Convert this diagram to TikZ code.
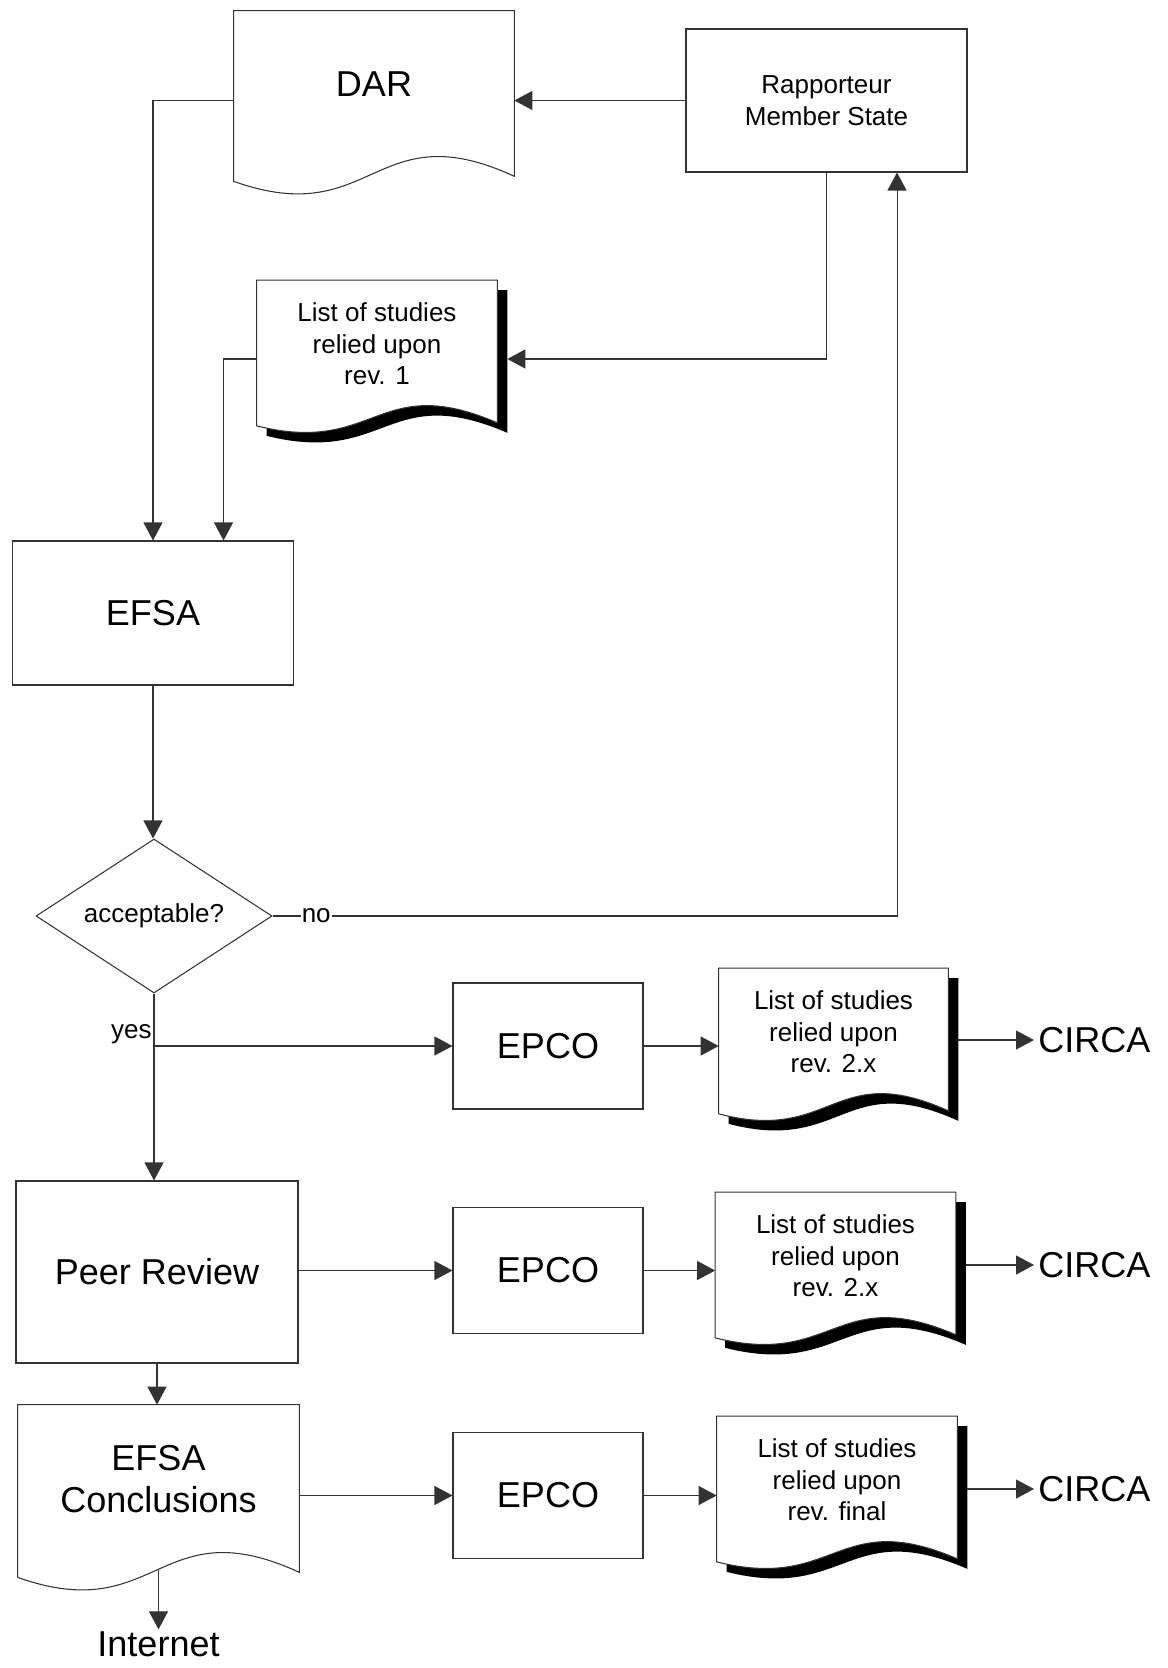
\documentclass[tikz,border=0pt]{standalone}
\usepackage{fontspec}
\setmainfont{Liberation Sans}
\usetikzlibrary{arrows.meta, positioning, calc, shapes.geometric, backgrounds, shadows}

\begin{document}
\begin{tikzpicture}[
      x=0.2mm, y=-0.2mm, >={Triangle[length=3.6mm, width=3.8mm]},
      bigtxt/.style={font=\fontsize{20.5}{24}\selectfont},
      smalltxt/.style={font=\fontsize{14.8}{18}\selectfont},
      box/.style={rectangle, draw=black!80, line width=0.6pt, align=center, inner sep=0pt},
      proc/.style={box, bigtxt, minimum width=38mm, minimum height=25.2mm},
      doc/.style={rectangle, align=center, inner sep=0pt},
      docline/.style={draw=black!80, line width=0.6pt, fill=white},
      listdoc/.style={doc, smalltxt, minimum width=48mm, minimum height=25.4mm},
      line/.style={draw=black!80, line width=0.6pt, ->},
      lbl/.style={smalltxt, fill=white, inner sep=0.5pt}
    ]
    \useasboundingbox (0,0) rectangle (1168,1668);

    % Nodes
    \node[doc, bigtxt, minimum width=56mm, minimum height=29.2mm] (dar) at (374,84) {DAR};
    \node[box, smalltxt, minimum width=56.2mm, minimum height=28.6mm] (rms) at (826.5,100.5) {Rapporteur\\Member State};
    \node[listdoc] (list1) at (377,344) {List of studies\\relied upon\\rev. 1};
    \node[box, bigtxt, minimum width=56.2mm, minimum height=28.8mm] (efsa) at (153,613) {EFSA};
    \node[diamond, aspect=1.53, draw=black!80, line width=0.6pt, smalltxt, minimum width=47.2mm, minimum height=30.8mm, inner sep=0pt] (dec) at (154,916) {acceptable?};

    \node[proc] (epco1) at (548,1046) {EPCO};
    \node[listdoc, minimum width=45.8mm] (list2) at (833.5,1032) {List of studies\\relied upon\\rev. 2.x};
    \node[bigtxt, anchor=west, inner sep=0.8mm] (circa1) at (1034,1040) {CIRCA};

    \node[box, bigtxt, minimum width=56.4mm, minimum height=36.4mm] (peer) at (157,1272) {Peer Review};
    \node[proc] (epco2) at (548,1270.5) {EPCO};
    \node[listdoc] (list3) at (835.5,1256) {List of studies\\relied upon\\rev. 2.x};
    \node[bigtxt, anchor=west, inner sep=0.8mm] (circa2) at (1034,1265) {CIRCA};

    \node[doc, bigtxt, minimum width=56.2mm, minimum height=29.6mm] (efsac) at (158.5,1479) {EFSA\\Conclusions};
    \node[proc] (epco3) at (548,1495.5) {EPCO};
    \node[listdoc] (list4) at (837,1480) {List of studies\\relied upon\\rev. final};
    \node[bigtxt, anchor=west, inner sep=0.8mm] (circa3) at (1034,1489) {CIRCA};

    \node[bigtxt, below=15.2mm of efsac, inner sep=0.3mm] (inet) {Internet};

    % Document outlines
    \begin{scope}[on background layer]
      \foreach \nm in {dar, efsac}
        \draw[docline] (\nm.north west) -- (\nm.north east) -- ([yshift=-3.8mm]\nm.south east)
          .. controls ([yshift=9.2mm]\nm.south) and ([yshift=-14.8mm]\nm.south) .. ([yshift=-4.8mm]\nm.south west) -- cycle;
      \foreach \nm in {list1, list2, list3, list4}
        \draw[docline, drop shadow={shadow xshift=2mm, shadow yshift=-2mm, fill=black, opacity=1}]
          (\nm.north west) -- (\nm.north east) -- ([yshift=-3mm]\nm.south east)
          .. controls ([yshift=7.4mm]\nm.south) and ([yshift=-9.6mm]\nm.south) .. ([yshift=-3.6mm]\nm.south west) -- cycle;
    \end{scope}

    % Connectors
    \draw[line] (rms.west) -- (rms.west -| dar.east);
    \draw[line] (dar.west |- rms.west) -| (efsa.north);
    \draw[line] (rms.south) |- ([xshift=2mm, yshift=-3mm]list1.east);
    \draw[line] ([yshift=-3mm]list1.west) -| ($(efsa.north)!0.5!(efsa.north east)$);
    \draw[line] (efsa.south) -- (efsa.south |- dec.north);
    \draw[line] (dec.east) -| node[lbl, pos=0.035] (no) {no} ($(rms.south)!0.5!(rms.south east)$);
    \draw[line] (dec.south) -- (dec.south |- peer.north);
    \draw[line] (dec.south |- epco1.west) node[smalltxt, anchor=south east, inner sep=1pt] (yes) {yes} -- (epco1.west);

    \draw[line] (epco1.east) -- (epco1.east -| list2.west);
    \draw[line] ([xshift=2mm]list2.east |- circa1.west) -- (circa1.west);
    \draw[line] (epco2.west -| peer.east) -- (epco2.west);
    \draw[line] (epco2.east) -- (epco2.east -| list3.west);
    \draw[line] ([xshift=2mm]list3.east |- circa2.west) -- (circa2.west);
    \draw[line] (peer.south) -- (peer.south |- efsac.north);
    \draw[line] (epco3.west -| efsac.east) -- (epco3.west);
    \draw[line] (epco3.east) -- (epco3.east -| list4.west);
    \draw[line] ([xshift=2mm]list4.east |- circa3.west) -- (circa3.west);
    \draw[line] ([yshift=-3.2mm]efsac.south) -- (inet);
  \end{tikzpicture}
\end{document}
